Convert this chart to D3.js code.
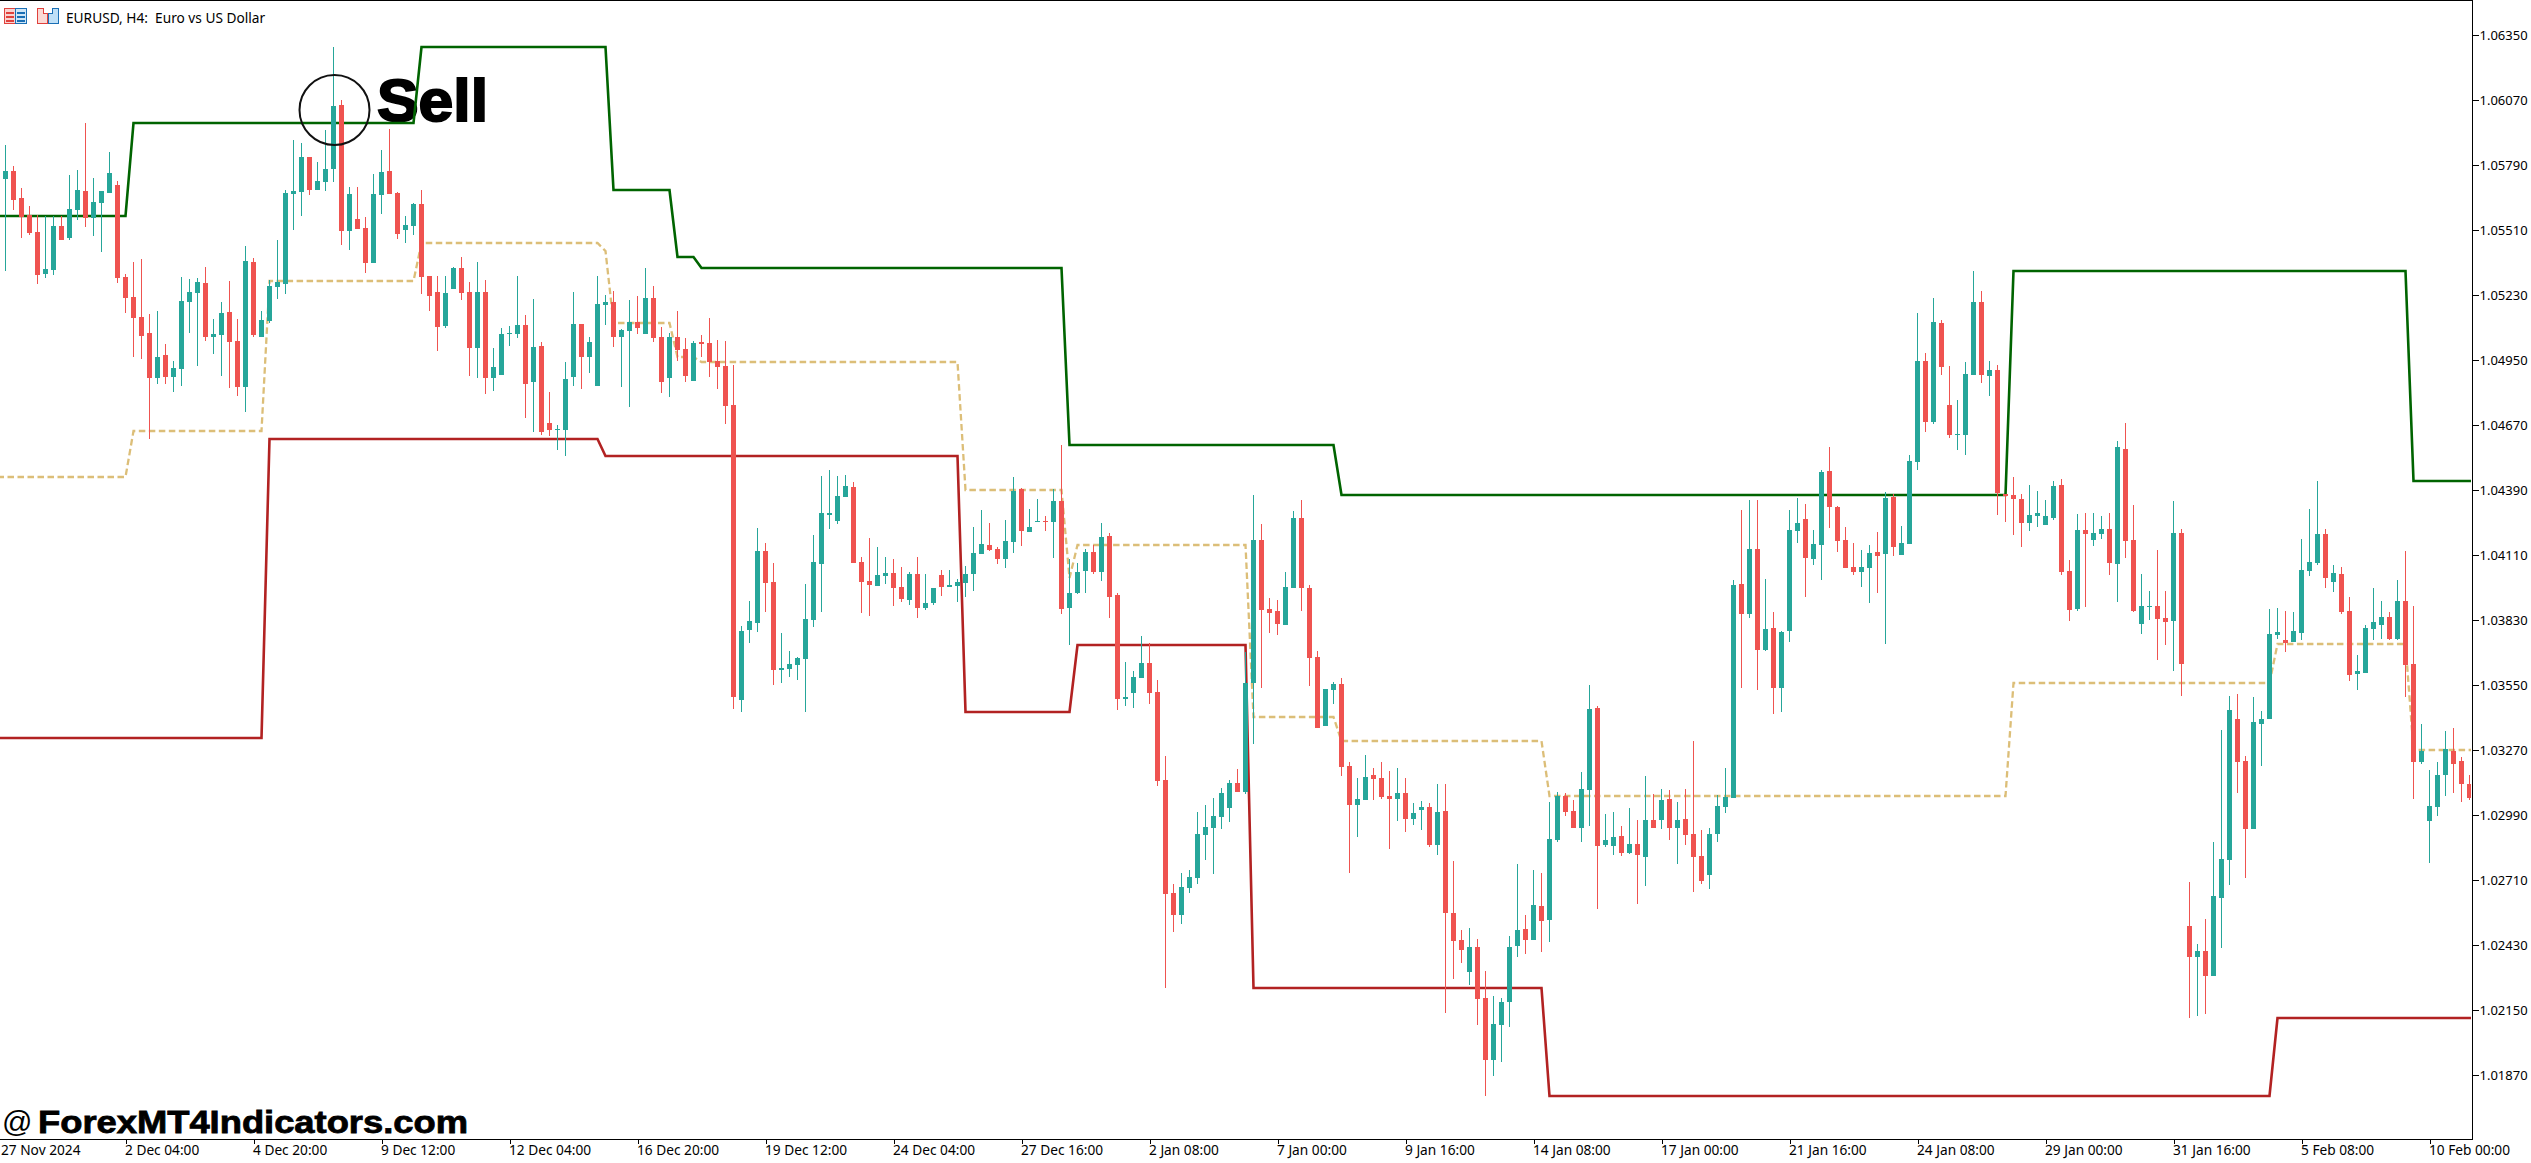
<!DOCTYPE html>
<html><head><meta charset="utf-8">
<script src="https://cdn.jsdelivr.net/npm/d3@7"></script>
<style>
html,body{margin:0;padding:0;background:#fff;overflow:hidden}
svg{display:block}
text{font-family:"Noto Sans",sans-serif;fill:#000}
</style></head><body>
<svg id="c" width="2531" height="1163"></svg>
<script>
// Prices in points (1e-5)
const highs=[105876,105786,105691,105614,105575,105571,105571,105571,105747,105769,
105971,105734,105678,105846,105721,105321,105372,105385,105148,105161,
105019,104946,105308,105299,105303,105351,105127,105200,105291,105127,
105441,105390,105161,105295,105467,105683,105898,105885,105825,105803,
105941,106299,106070,105695,105695,105566,105751,105855,105945,105674,
105571,105627,105683,105312,105312,105312,105351,105394,105286,105372,
105295,105002,105088,105097,105312,105144,105213,105028,104812,104670,
104942,105243,105105,105049,105312,105230,105247,105084,105209,105226,
105347,105270,105093,105067,105162,105046,105033,105058,105132,105037,
105033,104929,103804,103912,104227,104162,104076,103774,103697,103671,
103986,104196,104451,104477,104451,104455,104425,104102,104184,104145,
104102,104094,104059,104038,104102,104029,103969,104046,104046,104007,
104063,104231,104305,104249,104145,104262,104447,104399,104309,104352,
104279,104395,104585,104094,104076,104137,104154,104249,104206,103946,
103649,103611,103761,103731,103572,103244,102693,102740,102753,103003,
103033,103063,103106,103141,103188,103692,104369,104244,103925,103916,
104037,104300,104347,103981,103697,103533,103563,103580,103219,103150,
103249,103193,103219,103180,103193,103150,103042,103051,103042,103124,
103124,102792,102495,102503,102456,102318,102211,102202,102469,102779,
102559,102753,102740,103046,103089,103085,103055,103175,103550,103460,
102995,103003,102943,103020,102969,103158,103081,103102,103098,103046,
103102,103309,102926,102934,103076,103193,104003,104304,104347,104347,
104007,103865,103783,104304,104356,104330,104218,104476,104575,104321,
104231,104162,104132,104153,104209,104382,104373,104235,104541,105153,
104980,105217,105123,104924,104778,104942,105334,105247,104946,104929,
104373,104446,104373,104412,104386,104347,104429,104438,104089,104287,
104291,104291,104278,104291,104601,104679,104326,104028,103955,104132,
103955,104343,104222,102702,102435,102542,102874,103356,103503,103511,
103244,103499,103438,103878,103882,103869,103865,104179,104308,104429,
104222,104067,104059,103929,103679,103809,103968,103912,103865,104003,
104127,103891,103382,103184,103219,103352,103365,103240,103163];
const lows=[105335,105596,105476,105489,105278,105303,105316,105467,105467,105553,
105523,105484,105415,105670,105282,105153,104963,104955,104610,104847,
104847,104812,104838,105068,104924,105032,104976,104881,104830,104795,
104726,105049,105049,105111,105214,105235,105510,105571,105661,105683,
105678,105717,105446,105424,105515,105325,105368,105579,105665,105471,
105454,105489,105235,105161,104989,105088,105256,105209,104881,104873,
104804,104817,104886,105011,105045,104700,104640,104627,104623,104563,
104537,104838,104825,104894,104838,105101,105006,104834,104748,105062,
105063,105028,104809,104791,104946,104856,104860,104964,104878,104826,
104675,103447,103434,103731,103779,103865,103550,103559,103585,103572,
103434,103800,103865,104223,104244,104361,104076,103861,103848,103977,
103986,103891,103908,103895,103839,103874,103895,103934,103973,103908,
103930,103956,104115,104128,104072,104055,104119,104150,104210,104254,
104214,104098,103857,103723,103943,103947,104029,103999,103839,103443,
103460,103451,103580,103468,103115,102245,102486,102521,102654,102693,
102796,102736,102930,102960,103089,103081,103296,103537,103774,103766,
103809,103968,103869,103546,103365,103374,103468,103158,102740,102895,
103055,103055,103059,102844,102964,102917,102947,102926,102852,102818,
102137,102284,102353,102258,102086,101780,101866,101926,102077,102379,
102391,102452,102400,102443,102874,102986,102934,102874,102943,102585,
102852,102818,102814,102822,102607,102684,102934,102930,102883,102779,
102861,102659,102693,102671,102874,102999,103063,103537,103839,103529,
103697,103425,103434,103735,104162,103929,104067,104003,104227,104123,
104054,104024,103972,103903,103946,103727,104106,104110,104158,104476,
104640,104675,104886,104614,104563,104541,104886,104851,104795,104283,
104252,104196,104145,104214,104231,104239,104261,104024,103826,103869,
103886,104149,104179,104024,103908,104097,103865,103770,103830,103658,
103723,103611,103503,102116,102124,102133,102297,102417,102689,103085,
102719,102930,103201,103404,103748,103692,103735,103744,104020,104067,
103968,103951,103856,103567,103529,103602,103744,103748,103744,103744,
103499,103059,103210,102783,102986,103072,103085,103046,103055];
const opens=[105730,105764,105648,105575,105502,105321,105338,105527,105476,105596,
105678,105562,105627,105670,105704,105308,105222,105135,105067,104873,
104972,104877,104911,105200,105239,105282,105049,105058,105157,105032,
104834,105372,105049,105118,105265,105278,105665,105674,105825,105683,
105717,105773,106049,105506,105558,105519,105368,105661,105764,105670,
105510,105527,105622,105312,105243,105097,105256,105347,105243,105002,
105243,104873,104886,105062,105062,105101,104855,105011,104679,104649,
104649,104877,105105,104963,104838,105187,105200,105049,105075,105114,
105063,105218,105050,104873,105050,104998,104860,105028,105024,104946,
104925,104757,103486,103787,103817,104128,103994,103615,103619,103636,
103662,103830,104072,104283,104257,104361,104404,104081,103999,103977,
104020,104033,103973,103917,104029,103882,103904,104025,103973,103977,
103990,104029,104115,104154,104137,104094,104167,104395,104210,104254,
104257,104253,104343,103882,103947,104042,104124,104038,104193,103938,
103490,103516,103580,103645,103520,103141,102654,102559,102676,102719,
102904,102934,102982,103020,103128,103089,103559,104175,103878,103869,
103809,103968,104270,103968,103671,103374,103529,103555,103201,103033,
103055,103163,103150,103072,103059,103085,102973,103012,103025,102861,
103007,102568,102452,102314,102422,102202,101935,102086,102185,102426,
102499,102452,102598,102538,102883,103072,103007,102934,103098,103451,
102861,102857,102900,102827,102865,102809,102969,102969,103059,102934,
102973,102908,102814,102732,102908,103025,103063,103985,103856,104136,
103701,103796,103537,103783,104214,104265,104093,104153,104472,104317,
104175,104059,104037,104054,104123,104115,104360,104110,104158,104511,
104946,104683,105110,104756,104627,104627,104886,105200,104881,104907,
104373,104369,104351,104248,104278,104239,104270,104412,104041,103878,
104218,104175,104201,104222,104071,104567,104175,103813,103886,103891,
103839,103826,104205,102512,102379,102404,102297,102633,102796,103404,
103223,102930,103382,103404,103766,103744,103735,103774,104041,104076,
104201,103994,104028,103869,103598,103602,103791,103809,103843,103748,
103912,103641,103219,102964,103025,103163,103266,103223,103124];
const closes=[105764,105639,105566,105497,105316,105342,105527,105467,105601,105683,
105562,105631,105678,105756,105303,105217,105131,105054,104873,104963,
104877,104916,105204,105243,105286,105049,105062,105153,105028,104834,
105377,105058,105123,105269,105286,105670,105678,105825,105683,105721,
105773,106044,105506,105665,105515,105368,105665,105760,105665,105493,
105532,105622,105308,105226,105092,105239,105347,105239,105002,105243,
104873,104920,105062,105067,105101,104847,105006,104640,104649,104653,
104868,105105,104963,105028,105191,105200,105049,105079,105114,105088,
105218,105046,104856,105050,104994,104882,105024,105020,104942,104921,
104753,103499,103783,103826,104127,103990,103615,103623,103641,103667,
103835,104080,104292,104292,104365,104408,104076,103994,103982,104025,
104033,103969,103921,104029,103882,103904,103969,103973,103982,103994,
104029,104119,104158,104132,104094,104171,104386,104214,104231,104257,
104254,104343,103878,103947,104038,104124,104038,104188,103930,103490,
103499,103585,103645,103516,103137,102650,102559,102680,102723,102908,
102939,102986,103085,103128,103089,103559,104175,103873,103860,103813,
103972,104270,103968,103667,103365,103533,103555,103197,103033,103059,
103154,103145,103068,103059,103085,102973,102999,103025,102861,103003,
102568,102447,102409,102422,102198,101935,102090,102185,102422,102495,
102452,102602,102534,102887,103072,103003,102934,103102,103447,102857,
102883,102895,102827,102865,102818,102969,102934,103055,102934,102969,
102904,102809,102706,102908,103029,103068,103981,103856,104136,103701,
103791,103537,103779,104218,104248,104097,104158,104468,104317,104171,
104054,104037,104059,104119,104106,104356,104145,104162,104515,104946,
104683,105114,104920,104627,104631,104890,105200,104886,104907,104377,
104364,104351,104248,104283,104291,104278,104407,104037,103873,104218,
104201,104205,104222,104076,104575,104171,103869,103891,103891,103835,
103822,104205,103641,102379,102404,102297,102641,102801,103443,103219,
102930,103391,103404,103770,103779,103731,103783,104046,104080,104201,
104011,104033,103865,103593,103611,103796,103822,103843,103748,103912,
103636,103219,103266,103029,103163,103275,103210,103124,103063];

// Indicator levels: bar at which each level starts, and the level
const upperStarts=[-1,16,52,76,84,87,133,167,251,301];
const upperLevels=[105571,105971,106299,105683,105394,105347,104584,104369,105334,104429];
const lowerStarts=[-1,33,75,120,134,156,193,284];
const lowerLevels=[103322,104610,104537,103434,103723,102245,101780,102116];
const midStarts=[-1,16,33,52,75,76,84,87,120,133,134,156,167,193,251,284,301];
const midLevels=[104446,104646,105290,105454,105418,105110,104965,104942,104390,104009,104153,103414,103307,103074,103557,103725,103272];

const priceTicks=[106350,106070,105790,105510,105230,104950,104670,104390,104110,103830,103550,103270,102990,102710,102430,102150,101870];
const timeBars=[-1,15,31,47,63,79,95,111,127,143,159,175,191,207,223,239,255,271,287,303];
const timeLabels=["27 Nov 2024","2 Dec 04:00","4 Dec 20:00","9 Dec 12:00","12 Dec 04:00","16 Dec 20:00","19 Dec 12:00","24 Dec 04:00","27 Dec 16:00","2 Jan 08:00","7 Jan 00:00","9 Jan 16:00","14 Jan 08:00","17 Jan 00:00","21 Jan 16:00","24 Jan 08:00","29 Jan 00:00","31 Jan 16:00","5 Feb 08:00","10 Feb 00:00"];

const titleText="EURUSD, H4:  Euro vs US Dollar";
const sellText="Sell";
const watermarkAt="@";
const watermarkText="ForexMT4Indicators.com";

const UP="#26a69a",DOWN="#ef5350";
const plotR=2472,plotB=1139;
const svg=d3.select("#c");
const x=d3.scaleLinear().domain([0,1]).range([5.5,13.5]);
const y=d3.scaleLinear().domain([106350,101870]).range([35,1075]);
const n=closes.length;
const bars=d3.range(n);

svg.append("defs").append("clipPath").attr("id","plot").append("rect")
  .attr("x",0).attr("y",0).attr("width",plotR-1).attr("height",plotB);

// Annotation text sits behind the lines
svg.append("text").attr("x",377).attr("y",121).text(sellText)
  .style("font-family","'Liberation Sans',sans-serif").style("font-weight",700).style("font-size","60px")
  .attr("stroke","#000").attr("stroke-width",2)
  .attr("textLength",111).attr("lengthAdjust","spacingAndGlyphs");

// Indicator lines
function expand(starts,levels){
  const pts=[];
  const last=n+1;
  starts.forEach((s,k)=>{
    const e=k+1<starts.length?starts[k+1]:last;
    for(let b=s;b<e;b++)pts.push([b,levels[k]]);
  });
  return pts;
}
const line=d3.line().x(d=>x(d[0])).y(d=>Math.round(y(d[1])));
const gl=svg.append("g").attr("clip-path","url(#plot)").attr("fill","none");
gl.append("path").attr("d",line(expand(midStarts,midLevels))).attr("stroke","#dcbe78").attr("stroke-width",2.3).attr("stroke-dasharray","6.5 3.5");
gl.append("path").attr("d",line(expand(upperStarts,upperLevels))).attr("stroke","#006400").attr("stroke-width",2.6);
gl.append("path").attr("d",line(expand(lowerStarts,lowerLevels))).attr("stroke","#b22222").attr("stroke-width",2.6);

// Candles
const gc=svg.append("g").attr("clip-path","url(#plot)").attr("shape-rendering","crispEdges");
const col=i=>closes[i]>=opens[i]?UP:DOWN;
gc.selectAll("rect.w").data(bars).join("rect").attr("class","w")
  .attr("x",i=>x(i)-0.5).attr("width",1)
  .attr("y",i=>Math.round(y(highs[i])))
  .attr("height",i=>Math.max(1,Math.round(y(lows[i]))-Math.round(y(highs[i]))))
  .attr("fill",col);
gc.selectAll("rect.b").data(bars).join("rect").attr("class","b")
  .attr("x",i=>x(i)-2.5).attr("width",5)
  .attr("y",i=>Math.round(y(Math.max(opens[i],closes[i]))))
  .attr("height",i=>Math.max(1,Math.round(y(Math.min(opens[i],closes[i])))-Math.round(y(Math.max(opens[i],closes[i])))))
  .attr("fill",col);

// Circle marker
svg.append("ellipse").attr("cx",334.5).attr("cy",110).attr("rx",35).attr("ry",35)
  .attr("fill","none").attr("stroke","#111").attr("stroke-width",2);

// Frame
const fr=svg.append("g").attr("shape-rendering","crispEdges").attr("fill","#000");
fr.append("rect").attr("x",0).attr("y",0).attr("width",plotR+1).attr("height",1);
fr.append("rect").attr("x",plotR).attr("y",0).attr("width",1).attr("height",plotB+1);
fr.append("rect").attr("x",0).attr("y",plotB).attr("width",plotR+1).attr("height",1);

// Axes
const ay=d3.axisRight(y).tickValues(priceTicks).tickSize(6).tickPadding(1).tickFormat(d=>(d/1e5).toFixed(5));
const gy=svg.append("g").attr("transform",`translate(${plotR+0.5},0)`).call(ay);
gy.select(".domain").remove();
gy.selectAll("line").attr("stroke","#000").attr("shape-rendering","crispEdges");
gy.selectAll("text").style("font-size","13px").style("font-family","'Noto Sans',sans-serif");

const ax=d3.axisBottom(x).tickValues(timeBars).tickSize(4).tickPadding(2).tickFormat((d,k)=>timeLabels[k]);
const gx=svg.append("g").attr("transform",`translate(0,${plotB+0.5})`).call(ax);
gx.select(".domain").remove();
gx.selectAll("line").attr("stroke","#000").attr("shape-rendering","crispEdges");
gx.selectAll("text").attr("text-anchor","start").attr("x",(d,k)=>k===0?3:-1).style("font-size","13.7px").style("font-family","'Noto Sans',sans-serif");

// Title and icons
svg.append("text").attr("x",66).attr("y",23).text(titleText)
  .style("font-size","13.7px").style("white-space","pre");
const ic=svg.append("g").attr("shape-rendering","crispEdges");
ic.append("rect").attr("x",4.5).attr("y",8.5).attr("width",11).attr("height",15).attr("fill","#f9d3d0").attr("stroke","#e0413c");
ic.append("rect").attr("x",15.5).attr("y",8.5).attr("width",11).attr("height",15).attr("fill","#cfe6f7").attr("stroke","#1a6fb5");
[12,16,20].forEach(v=>{
  ic.append("rect").attr("x",6).attr("y",v).attr("width",8).attr("height",1.5).attr("fill","#e0413c");
  ic.append("rect").attr("x",17).attr("y",v).attr("width",8).attr("height",1.5).attr("fill","#1a6fb5");
});
ic.append("path").attr("d","M37.5 8.5H43.5V13.5H47.5V23.5H37.5Z").attr("fill","#fbd9d5").attr("stroke","#e0413c");
ic.append("path").attr("d","M48.5 13.5H52.5V8.5H58.5V23.5H48.5Z").attr("fill","#bfe0f7").attr("stroke","#1a6fb5");

// Watermark
const wmFont="'Liberation Sans',sans-serif";
svg.append("text").attr("x",2).attr("y",1132).text(watermarkAt)
  .style("font-family",wmFont).style("font-size","30px");
svg.append("text").attr("x",38).attr("y",1133).text(watermarkText)
  .style("font-family",wmFont).style("font-weight",700).style("font-size","32px")
  .attr("stroke","#000").attr("stroke-width",0.8)
  .attr("textLength",430).attr("lengthAdjust","spacingAndGlyphs");
</script>
</body></html>
